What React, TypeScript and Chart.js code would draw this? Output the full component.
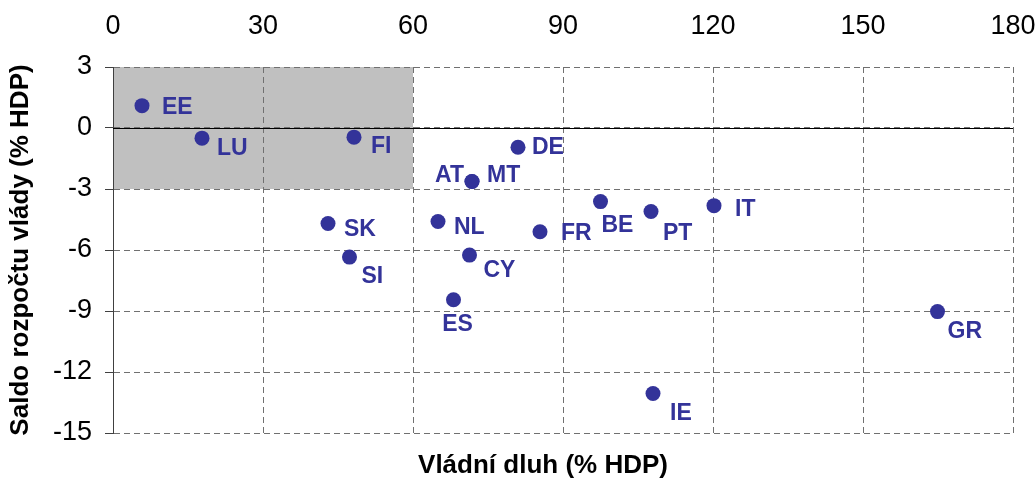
import React, { useEffect, useRef } from "react";
import { Chart, registerables } from "chart.js";
Chart.register(...registerables);

const countries = ["EE", "LU", "FI", "DE", "AT", "MT", "SK", "NL", "FR", "SI", "CY", "ES", "BE", "PT", "IT", "GR", "IE"];
const debt = [5.8, 17.8, 48.2, 81.0, 71.8, 71.8, 43.0, 65.0, 85.4, 47.3, 71.3, 68.1, 97.5, 107.6, 120.2, 164.9, 108.0];
const balance = [1.1, -0.5, -0.45, -0.95, -2.63, -2.63, -4.7, -4.6, -5.1, -6.35, -6.25, -8.45, -3.62, -4.11, -3.82, -9.03, -13.06];

const xTicksMin = 0;
const xTicksMax = 180;
const xStep = 30;
const yTicksMin = -15;
const yTicksMax = 3;
const yStep = 3;

const shadeX = [0, 60];
const shadeY = [-3, 3];

const xTitle = "Vládní dluh (% HDP)";
const yTitle = "Saldo rozpočtu vlády (% HDP)";

// label placement (pixel offsets from the point, style only)
const labelOffsets: Record<string, [number, number, CanvasTextAlign]> = {
  EE: [20, 0, "left"],
  LU: [15, 9, "left"],
  FI: [17, 8, "left"],
  DE: [14, -1, "left"],
  AT: [-8, -7, "right"],
  MT: [15, -7, "left"],
  SK: [16, 4, "left"],
  NL: [16, 4, "left"],
  FR: [21, 0, "left"],
  SI: [12, 18, "left"],
  CY: [14, 14, "left"],
  ES: [4, 23, "center"],
  BE: [1, 22, "left"],
  PT: [12, 20, "left"],
  IT: [21, 2, "left"],
  GR: [10, 18, "left"],
  IE: [17, 18, "left"],
};

const FONT = '"Liberation Sans", Arial, sans-serif';
const BLUE = "#333399";

export default function App() {
  const ref = useRef<HTMLCanvasElement | null>(null);

  useEffect(() => {
    if (!ref.current) return;

    const decor = {
      id: "decor",
      beforeDraw(chart: any) {
        const { ctx, scales } = chart;
        const x = scales.x, y = scales.y;
        const x0 = x.getPixelForValue(shadeX[0]);
        const x1 = x.getPixelForValue(shadeX[1]);
        const y0 = y.getPixelForValue(shadeY[1]);
        const y1 = y.getPixelForValue(shadeY[0]);
        ctx.save();
        ctx.fillStyle = "#c0c0c0";
        ctx.fillRect(x0, y0, x1 - x0, y1 - y0);
        ctx.restore();
      },
      beforeDatasetsDraw(chart: any) {
        const { ctx, scales } = chart;
        const x = scales.x, y = scales.y;
        const yz = Math.round(y.getPixelForValue(0)) + 0.5;
        ctx.save();
        ctx.strokeStyle = "#000000";
        ctx.lineWidth = 1;
        ctx.beginPath();
        ctx.moveTo(x.getPixelForValue(xTicksMin), yz);
        ctx.lineTo(x.getPixelForValue(xTicksMax), yz);
        ctx.stroke();
        ctx.restore();
      },
      afterDatasetsDraw(chart: any) {
        const { ctx, scales, chartArea } = chart;
        const x = scales.x, y = scales.y;
        ctx.save();
        ctx.fillStyle = BLUE;
        ctx.font = `bold 23px ${FONT}`;
        ctx.textBaseline = "alphabetic";
        countries.forEach((c, i) => {
          const [dx, dy, align] = labelOffsets[c];
          const px = x.getPixelForValue(debt[i]);
          const py = y.getPixelForValue(balance[i]);
          ctx.textAlign = align;
          ctx.fillText(c, px + dx, py + dy + 8);
        });
        // x-axis title at the bottom
        ctx.fillStyle = "#000000";
        ctx.font = `bold 26px ${FONT}`;
        ctx.textAlign = "center";
        ctx.textBaseline = "middle";
        ctx.fillText(xTitle, (chartArea.left + chartArea.right) / 2 - 20, chartArea.bottom + 33);
        ctx.restore();
      },
    };

    const chart = new Chart(ref.current, {
      type: "scatter",
      data: {
        datasets: [
          {
            data: debt.map((d, i) => ({ x: d, y: balance[i] })),
            backgroundColor: BLUE,
            borderWidth: 0,
            pointRadius: 7.5,
            pointHoverRadius: 7.5,
          },
        ],
      },
      options: {
        animation: false,
        responsive: true,
        maintainAspectRatio: false,
        layout: { padding: { top: 0, right: 22, bottom: 48, left: 0 } },
        plugins: {
          legend: { display: false },
          tooltip: { enabled: false },
          title: { display: false },
        },
        scales: {
          x: {
            type: "linear",
            position: "top",
            min: xTicksMin,
            max: xTicksMax,
            ticks: {
              stepSize: xStep,
              color: "#000000",
              font: { family: FONT, size: 27 },
              padding: 24,
            },
            grid: {
              color: "#707070",
              lineWidth: 1,
              drawTicks: false,
            },
            border: { display: false, dash: [6, 4] },
            afterFit(scale: any) {
              scale.height = 67;
              scale.paddingLeft = 0;
              scale.paddingRight = 0;
            },
          },
          y: {
            type: "linear",
            position: "left",
            min: yTicksMin,
            max: yTicksMax,
            ticks: {
              stepSize: yStep,
              color: "#000000",
              font: { family: FONT, size: 27 },
              padding: 13,
            },
            grid: {
              color: "#707070",
              lineWidth: 1,
              drawTicks: true,
              tickLength: 8,
              tickColor: "#404040",
              tickBorderDash: [],
            },
            border: { display: true, color: "#404040", width: 1, dash: [6, 4] },
            title: {
              display: true,
              text: yTitle,
              color: "#000000",
              font: { family: FONT, size: 26, weight: "bold" },
              padding: { top: 5, bottom: 0 },
            },
            afterFit(scale: any) {
              scale.width = 113;
              scale.paddingTop = 0;
              scale.paddingBottom = 0;
            },
          },
        },
      },
      plugins: [decor],
    });

    return () => chart.destroy();
  }, []);

  return (
    <div style={{ position: "fixed", left: 0, top: 0, width: 1035, height: 481, background: "#ffffff" }}>
      <canvas ref={ref} />
    </div>
  );
}
